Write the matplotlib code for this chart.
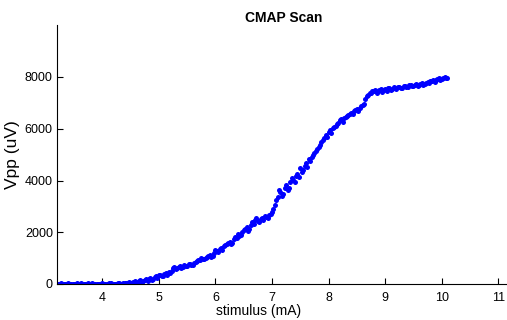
# CMAP scan: Vpp vs stimulo
import matplotlib
matplotlib.use("Agg")
import matplotlib.pyplot as plt

plt.rcParams['font.family'] = ['Liberation Sans', 'DejaVu Sans']

# Datos - barrido 1
stimulus = [3.20, 3.25, 3.30, 3.35, 3.40, 3.45, 3.50, 3.55, 3.60, 3.65,
            3.70, 3.75, 3.80, 3.85, 3.90, 3.95, 4.00, 4.05, 4.10, 4.15,
            4.20, 4.25, 4.30, 4.35, 4.40, 4.45, 4.50, 4.55, 4.60, 4.65,
            4.70, 4.75, 4.80, 4.85, 4.90, 4.95, 5.00, 5.05, 5.10, 5.15,
            5.20, 5.25, 5.30, 5.35, 5.40, 5.45, 5.50, 5.55, 5.60, 5.65,
            5.70, 5.75, 5.80, 5.85, 5.90, 5.95, 6.00, 6.05, 6.10, 6.15,
            6.20, 6.25, 6.30, 6.35, 6.40, 6.45, 6.50, 6.55, 6.60, 6.65,
            6.70, 6.75, 6.80, 6.85, 6.90, 6.95, 7.00, 7.05, 7.10, 7.15,
            7.20, 7.25, 7.30, 7.35, 7.40, 7.45, 7.50, 7.55, 7.60, 7.65,
            7.70, 7.75, 7.80, 7.85, 7.90, 7.95, 8.00, 8.05, 8.10, 8.15,
            8.20, 8.25, 8.30, 8.35, 8.40, 8.45, 8.50, 8.55, 8.60, 8.65,
            8.70, 8.75, 8.80, 8.85, 8.90, 8.95, 9.00, 9.05, 9.10, 9.15,
            9.20, 9.25, 9.30, 9.35, 9.40, 9.45, 9.50, 9.55, 9.60, 9.65,
            9.70, 9.75, 9.80, 9.85, 9.90, 9.95, 10.00, 10.05, 10.10]

vpp = [10, 0, 15, 5, 20, 0, 10, 25, 5, 15,
       0, 20, 10, 0, 15, 5, 25, 10, 0, 20,
       5, 15, 30, 10, 25, 45, 30, 80, 55, 120,
       90, 160, 130, 220, 190, 300, 330, 290, 390, 360,
       440, 610, 580, 660, 630, 720, 690, 790, 750, 850,
       920, 1020, 960, 1050, 1120, 1080, 1320, 1230, 1400, 1460,
       1540, 1640, 1600, 1820, 1920, 1880, 2080, 2200, 2140, 2380,
       2460, 2420, 2520, 2480, 2600, 2680, 2780, 3050, 3380, 3560,
       3480, 3820, 3720, 4080, 3960, 4250, 4480, 4420, 4680, 4850,
       4900, 5050, 5220, 5380, 5560, 5750, 5880, 5820, 6080, 6180,
       6320, 6280, 6450, 6520, 6600, 6680, 6760, 6820, 6900, 7150,
       7320, 7400, 7460, 7380, 7480, 7420, 7520, 7560, 7480, 7600,
       7540, 7620, 7580, 7660, 7620, 7700, 7640, 7720, 7680, 7760,
       7740, 7820, 7860, 7900, 7880, 7960, 7920, 8000, 7980]

# barrido 2 (puntos intermedios)
stimulus2 = [3.225, 3.275, 3.325, 3.375, 3.425, 3.475, 3.525, 3.575, 3.625, 3.675,
             3.725, 3.775, 3.825, 3.875, 3.925, 3.975, 4.025, 4.075, 4.125, 4.175,
             4.225, 4.275, 4.325, 4.375, 4.425, 4.475, 4.525, 4.575, 4.625, 4.675,
             4.725, 4.775, 4.825, 4.875, 4.925, 4.975, 5.025, 5.075, 5.125, 5.175,
             5.225, 5.275, 5.325, 5.375, 5.425, 5.475, 5.525, 5.575, 5.625, 5.675,
             5.725, 5.775, 5.825, 5.875, 5.925, 5.975, 6.025, 6.075, 6.125, 6.175,
             6.225, 6.275, 6.325, 6.375, 6.425, 6.475, 6.525, 6.575, 6.625, 6.675,
             6.725, 6.775, 6.825, 6.875, 6.925, 6.975, 7.025, 7.075, 7.125, 7.175,
             7.225, 7.275, 7.325, 7.375, 7.425, 7.475, 7.525, 7.575, 7.625, 7.675,
             7.725, 7.775, 7.825, 7.875, 7.925, 7.975, 8.025, 8.075, 8.125, 8.175,
             8.225, 8.275, 8.325, 8.375, 8.425, 8.475, 8.525, 8.575, 8.625, 8.675,
             8.725, 8.775, 8.825, 8.875, 8.925, 8.975, 9.025, 9.075, 9.125, 9.175,
             9.225, 9.275, 9.325, 9.375, 9.425, 9.475, 9.525, 9.575, 9.625, 9.675,
             9.725, 9.775, 9.825, 9.875, 9.925, 9.975, 10.025, 10.075]

vpp2 = [5, 20, 0, 10, 5, 15, 0, 10, 20, 5,
        10, 0, 20, 5, 10, 0, 15, 5, 20, 10,
        0, 20, 15, 35, 20, 60, 45, 100, 70, 140,
        120, 180, 200, 170, 260, 240, 350, 320, 420, 470,
        520, 640, 600, 690, 650, 700, 760, 720, 820, 880,
        940, 980, 1010, 1090, 1060, 1180, 1260, 1340, 1300, 1520,
        1580, 1560, 1720, 1780, 1860, 2000, 2120, 2060, 2280, 2320,
        2540, 2400, 2560, 2640, 2560, 2720, 2880, 3250, 3620, 3420,
        3700, 3620, 3940, 4020, 4180, 4140, 4340, 4560, 4520, 4760,
        4980, 5150, 5300, 5480, 5660, 5700, 5960, 6020, 6120, 6240,
        6380, 6400, 6480, 6580, 6560, 6720, 6700, 6880, 6960, 7260,
        7380, 7440, 7500, 7440, 7540, 7500, 7460, 7580, 7540, 7560,
        7600, 7560, 7640, 7600, 7680, 7660, 7700, 7660, 7740, 7700,
        7780, 7760, 7840, 7820, 7920, 7900, 7980, 7960]

xticks = [4, 5, 6, 7, 8, 9, 10, 11]
yticks = [0, 2000, 4000, 6000, 8000]

fig = plt.figure(figsize=(5.07, 3.20), dpi=100)
ax = fig.add_axes([57 / 507, 36 / 320, 452.6 / 507, 258.75 / 320])

ax.plot(stimulus, vpp, 'o', color='blue', markersize=3.6, markeredgewidth=0)
ax.plot(stimulus2, vpp2, 'o', color='blue', markersize=3.6, markeredgewidth=0)

ax.set_xlim(3.2, 11.2)
ax.set_ylim(0, 10000)
ax.set_xticks(xticks)
ax.set_yticks(yticks)
ax.tick_params(direction='in', length=4, width=0.8, labelsize=9)
ax.tick_params(axis='x', pad=6)
ax.tick_params(axis='y', pad=3)
ax.spines['top'].set_visible(False)
ax.spines['right'].set_visible(False)

ax.set_title('CMAP Scan', fontsize=10, fontweight='bold', pad=2)
ax.set_xlabel('stimulus (mA)', fontsize=10)
ax.xaxis.set_label_coords(0.445, -0.078)
ax.set_ylabel('Vpp (uV)', fontsize=12.5)
ax.yaxis.set_label_coords(-0.082, 0.5)

fig.savefig('out.png', dpi=100)
